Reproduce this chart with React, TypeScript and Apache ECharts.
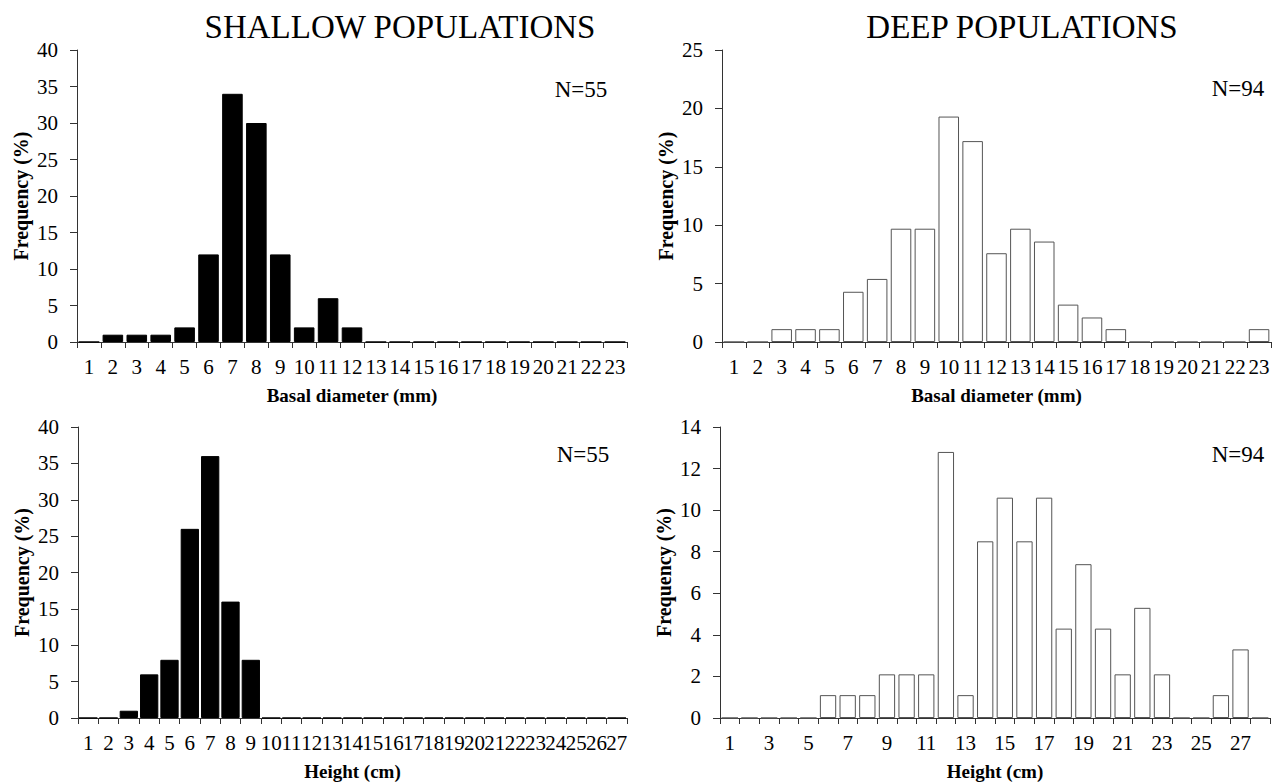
import React, { useEffect, useRef } from "react";
import * as echarts from "echarts";

const diameterCategories = ["1","2","3","4","5","6","7","8","9","10","11","12","13","14","15","16","17","18","19","20","21","22","23"];
const shallowHeightCategories = ["1","2","3","4","5","6","7","8","9","10","11","12","13","14","15","16","17","18","19","20","21","22","23","24","25","26","27"];
const deepHeightCategories = ["1","2","3","4","5","6","7","8","9","10","11","12","13","14","15","16","17","18","19","20","21","22","23","24","25","26","27","28"];

const shallowDiameter = [0, 1, 1, 1, 2, 12, 34, 30, 12, 2, 6, 2, 0, 0, 0, 0, 0, 0, 0, 0, 0, 0, 0];
const deepDiameter = [0, 0, 1.1, 1.1, 1.1, 4.3, 5.4, 9.7, 9.7, 19.3, 17.2, 7.6, 9.7, 8.6, 3.2, 2.1, 1.1, 0, 0, 0, 0, 0, 1.1];
const shallowHeight = [0, 0, 1, 6, 8, 26, 36, 16, 8, 0, 0, 0, 0, 0, 0, 0, 0, 0, 0, 0, 0, 0, 0, 0, 0, 0, 0];
const deepHeight = [0, 0, 0, 0, 0, 1.1, 1.1, 1.1, 2.1, 2.1, 2.1, 12.8, 1.1, 8.5, 10.6, 8.5, 10.6, 4.3, 7.4, 4.3, 2.1, 5.3, 2.1, 0, 0, 1.1, 3.3, 0];

const panelTitles = ["SHALLOW POPULATIONS", "DEEP POPULATIONS"];
const sampleSizes = ["N=55", "N=94", "N=55", "N=94"];
const xNames = ["Basal diameter (mm)", "Basal diameter (mm)", "Height (cm)", "Height (cm)"];
const yName = "Frequency (%)";

const FONT = "'Liberation Serif', 'Times New Roman', serif";
const AXIS_COLOR = "#333";

function xAxis(gridIndex: number, data: string[], name: string, labelInterval: number) {
  return {
    type: "category",
    gridIndex,
    data,
    boundaryGap: true,
    axisLine: { show: true, lineStyle: { color: AXIS_COLOR, width: 1 } },
    axisTick: { show: true, length: 6, interval: 0, alignWithLabel: false, lineStyle: { color: AXIS_COLOR, width: 1 } },
    axisLabel: { interval: labelInterval, margin: 14, fontSize: 21, fontFamily: FONT, color: "#000" },
    splitLine: { show: false },
    name,
    nameLocation: "middle",
    nameGap: 44,
    nameTextStyle: { fontSize: 19, fontWeight: "bold", fontFamily: FONT, color: "#000" },
  };
}

function yAxis(gridIndex: number, max: number, interval: number) {
  return {
    type: "value",
    gridIndex,
    min: 0,
    max,
    interval,
    axisLine: { show: true, lineStyle: { color: AXIS_COLOR, width: 1 } },
    axisTick: { show: true, length: 7, lineStyle: { color: AXIS_COLOR, width: 1 } },
    axisLabel: { margin: 19, fontSize: 21, fontFamily: FONT, color: "#000" },
    splitLine: { show: false },
    name: yName,
    nameLocation: "middle",
    nameGap: 46,
    nameTextStyle: { fontSize: 20, fontWeight: "bold", fontFamily: FONT, color: "#000" },
  };
}

function textEl(text: string, x: number, y: number, size: number) {
  return {
    type: "text",
    x,
    y,
    silent: true,
    style: {
      text,
      fill: "#000",
      fontSize: size,
      fontFamily: FONT,
      align: "center",
      verticalAlign: "middle",
      textAlign: "center",
      textVerticalAlign: "middle",
    },
  };
}

export default function App() {
  const ref = useRef<HTMLDivElement>(null);

  useEffect(() => {
    document.body.style.margin = "0";
    if (!ref.current) return;
    const chart = echarts.init(ref.current, undefined, { renderer: "svg" });
    const black = { color: "#000", borderColor: "#000", borderWidth: 1 };
    const white = { color: "#fff", borderColor: "#555", borderWidth: 1 };
    chart.setOption({
      animation: false,
      backgroundColor: "#fff",
      grid: [
        { left: 77, top: 50, width: 550, height: 292 },
        { left: 722, top: 50, width: 549, height: 292 },
        { left: 78, top: 427, width: 549, height: 291 },
        { left: 720, top: 427, width: 550, height: 291 },
      ],
      xAxis: [
        xAxis(0, diameterCategories, xNames[0], 0),
        xAxis(1, diameterCategories, xNames[1], 0),
        xAxis(2, shallowHeightCategories, xNames[2], 0),
        xAxis(3, deepHeightCategories, xNames[3], 1),
      ],
      yAxis: [yAxis(0, 40, 5), yAxis(1, 25, 5), yAxis(2, 40, 5), yAxis(3, 14, 2)],
      series: [
        { type: "bar", xAxisIndex: 0, yAxisIndex: 0, data: shallowDiameter, barCategoryGap: "14%", itemStyle: black, silent: true },
        { type: "bar", xAxisIndex: 1, yAxisIndex: 1, data: deepDiameter, barCategoryGap: "14%", itemStyle: white, silent: true },
        { type: "bar", xAxisIndex: 2, yAxisIndex: 2, data: shallowHeight, barCategoryGap: "10%", itemStyle: black, silent: true },
        { type: "bar", xAxisIndex: 3, yAxisIndex: 3, data: deepHeight, barCategoryGap: "17%", itemStyle: white, silent: true },
      ],
      graphic: [
        textEl(panelTitles[0], 400, 27, 33),
        textEl(panelTitles[1], 1022, 27, 33),
        textEl(sampleSizes[0], 581, 89, 23),
        textEl(sampleSizes[1], 1238, 88, 23),
        textEl(sampleSizes[2], 583, 454, 23),
        textEl(sampleSizes[3], 1238, 454, 23),
      ],
    });
    return () => chart.dispose();
  }, []);

  return <div ref={ref} style={{ width: 1275, height: 783 }} />;
}
